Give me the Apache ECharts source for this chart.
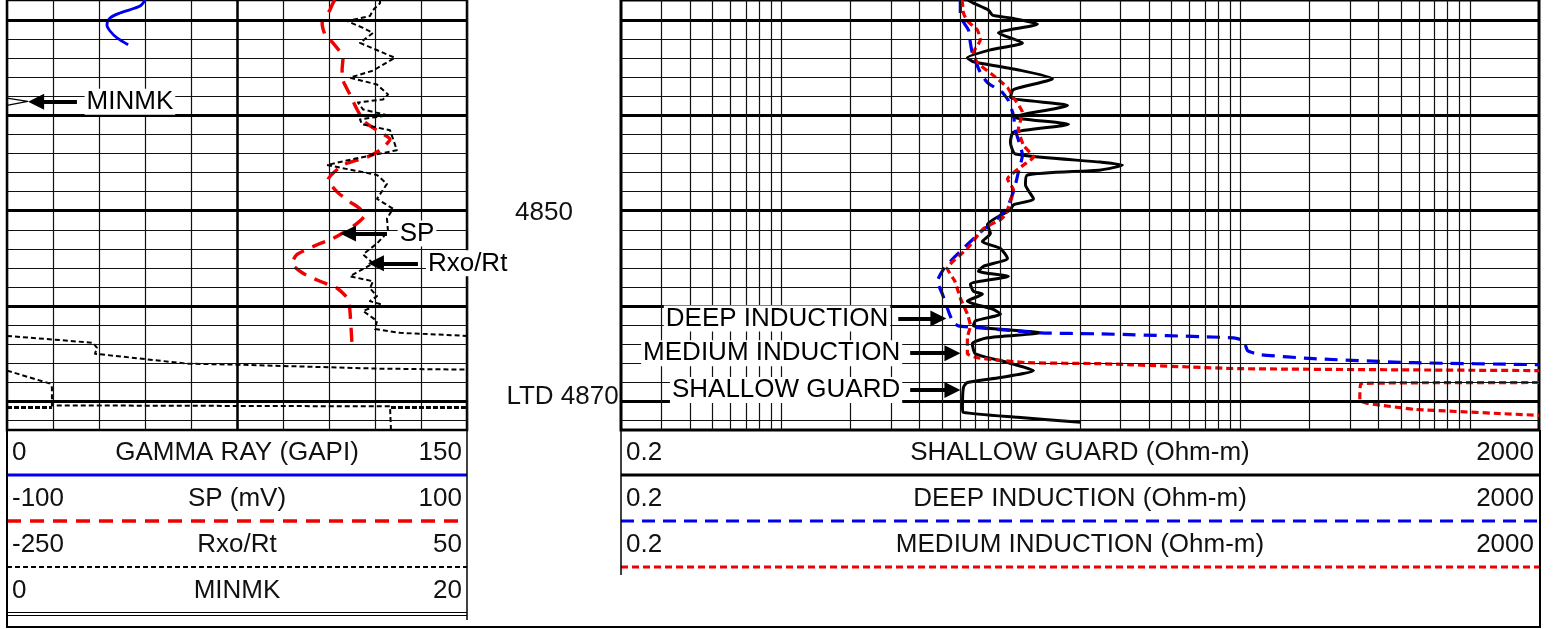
<!DOCTYPE html>
<html>
<head>
<meta charset="utf-8">
<title>Well log 4828-4873 ft</title>
<script src="https://cdn.jsdelivr.net/npm/echarts@6/dist/echarts.min.js"></script>
<style>
  html, body { margin: 0; padding: 0; background: #fff; }
  #chart { width: 1554px; height: 629px; }
</style>
</head>
<body>
<div id="chart"></div>
<script>
// ---- Curve data: [reading, depth ft] ----
const gammaRay = [[45.0,4827.9],[43.4,4828.54],[36.8,4829.27],[33.6,4829.79],[32.6,4830.52],[33.6,4831.15],[35.9,4831.88],[39.5,4832.6]];

const spLog = [[42.5,4827.9],[41.7,4828.23],[40.4,4828.96],[37.0,4830.31],[38.3,4831.56],[41.7,4832.40],[46.1,4833.96],[45.7,4835.21],[46.1,4836.35],[49.1,4837.81],[52.2,4839.38],[55.7,4840.73],[62.2,4841.77],[66.5,4842.50],[62.2,4843.65],[56.5,4844.38],[46.1,4845.21],[39.6,4846.77],[43.5,4848.02],[49.1,4849.06],[53.5,4849.79],[55.7,4850.42],[50.4,4851.67],[41.7,4852.92],[36.1,4853.44],[26.1,4854.58],[23.9,4855.52],[28.7,4856.56],[36.1,4857.40],[43.5,4858.13],[48.3,4859.27],[49.1,4860.52],[50.0,4863.96]];

const rxoRt = [[-6.7,4827.9],[-6.7,4828.23],[-11.3,4828.96],[-13.3,4829.58],[-28.3,4830.10],[-17.8,4830.83],[-11.3,4831.35],[-19.8,4832.40],[3.0,4833.96],[-11.3,4835.31],[-26.3,4836.04],[-8.7,4836.77],[-1.5,4837.81],[-4.8,4838.33],[-21.1,4838.65],[-17.8,4839.38],[-1.5,4840.00],[-19.8,4840.42],[-18.5,4840.94],[-0.2,4841.56],[4.3,4843.65],[-24.3,4844.58],[-41.3,4845.21],[-8.7,4846.25],[-2.2,4847.19],[-8.7,4848.75],[1.7,4849.79],[-2.2,4850.83],[-1.5,4852.19],[-8.7,4853.44],[-17.8,4854.58],[-11.3,4855.52],[-26.3,4856.88],[-11.3,4857.40],[-13.3,4858.13],[-8.7,4858.96],[-13.3,4859.48],[-6.7,4859.79],[-17.8,4860.52],[-8.7,4861.56],[-10.0,4862.40],[6.3,4862.81],[50,4863.13]];

// Rxo/Rt traces re-entering the track after running off scale
const rxoRtWrap1 = [[-250,4863.13],[-193.9,4863.85],[-191.3,4864.38],[-192.6,4865.0],[-132.6,4866.04],[-100.0,4866.15],[-8.7,4866.56],[50,4866.67]];
const rxoRtWrap2 = [[-250,4866.77],[-222.0,4868.13],[-220.7,4868.54],[-220.7,4870.42],[-0.2,4870.52],[0.4,4873.0]];
const rxoRtWrap3a = [[-250,4870.63],[-220.7,4870.63]];
const rxoRtWrap3b = [[0.4,4870.63],[50,4870.63]];

const minmk = [[0,4827.9],[0,4838.2],[0.9,4838.54],[0,4838.96],[0,4873.0]];

const shallowGuard = [[6.5,4827.9],[6.86,4828.23],[7.98,4828.96],[8.31,4829.48],[9.95,4829.79],[13.05,4830.42],[8.82,4831.35],[11.23,4832.40],[8.14,4833.13],[6.46,4833.96],[6.86,4834.38],[10.68,4835.21],[15.17,4836.15],[10.26,4837.29],[9.95,4838.13],[17.64,4838.96],[11.34,4839.90],[10.26,4840.21],[17.82,4840.94],[10.26,4841.77],[9.95,4842.81],[10.46,4844.06],[24.6,4844.90],[30.6,4845.21],[24.6,4845.73],[11.80,4846.25],[11.57,4847.29],[12.54,4848.75],[10.26,4849.38],[9.95,4849.90],[7.90,4851.46],[8.14,4852.40],[7.51,4853.23],[9.00,4853.96],[9.66,4855.00],[7.59,4855.83],[7.22,4856.35],[9.75,4856.88],[6.66,4857.71],[6.86,4858.44],[7.51,4858.75],[6.46,4859.48],[8.31,4860.31],[9.00,4860.83],[7.00,4861.56],[6.86,4862.08],[13.45,4862.81],[7.90,4863.33],[6.79,4863.96],[7.00,4865.00],[9.75,4865.94],[12.54,4866.77],[9.00,4867.50],[6.46,4868.02],[6.21,4868.54],[6.15,4870.63],[6.21,4871.15],[10.68,4871.67],[20.1,4872.19]];

const deepInduction = [[6.02,4827.9],[6.02,4829.58],[6.53,4831.04],[6.66,4832.40],[6.79,4833.44],[7.36,4835.52],[7.90,4836.56],[9.18,4837.60],[9.75,4838.44],[10.26,4840.00],[10.46,4841.56],[11.23,4844.17],[10.78,4845.94],[10.46,4847.29],[10.15,4848.33],[9.66,4849.58],[8.73,4850.83],[7.59,4851.98],[6.46,4853.54],[5.61,4855.00],[5.08,4856.15],[4.78,4857.40],[5.03,4858.75],[5.34,4860.52],[5.61,4861.77],[5.90,4862.08],[7.36,4862.29],[13.45,4862.81],[24.6,4862.92],[93.5,4863.33],[103.3,4863.65],[107.6,4864.69],[122.6,4865.10],[208.7,4865.52],[569.9,4865.94],[2000,4866.15]];

const mediumInduction = [[6.1,4827.9],[6.15,4828.23],[6.21,4829.27],[6.46,4830.10],[7.14,4831.04],[7.36,4832.08],[6.86,4833.44],[7.14,4834.48],[8.31,4835.73],[9.66,4837.08],[10.26,4838.13],[11.23,4839.69],[10.78,4841.46],[11.34,4843.13],[12.54,4844.38],[11.34,4845.21],[9.66,4846.67],[10.26,4847.81],[9.95,4849.06],[9.46,4850.42],[9.00,4850.94],[7.59,4851.88],[6.46,4853.96],[5.28,4856.04],[5.70,4857.40],[6.02,4859.17],[6.46,4860.83],[6.66,4862.08],[6.46,4863.33],[6.46,4865.00],[7.14,4865.42],[11.80,4865.94],[24.6,4866.04],[97.3,4866.56],[2000,4866.77]];
const mediumInductionWrap = [[2000,4868.02],[334.7,4868.13],[331.3,4869.90],[359.1,4870.21],[569.9,4870.83],[2000,4871.46]];

// ---- Grid values ----
const depthMinor = [4830,4832,4834,4836,4838,4840,4842,4844,4846,4848,4850,4852,4854,4856,4858,4860,4862,4864,4866,4868,4870,4872];
const depthMajor = [4830,4840,4850,4860,4870];
const resistivityGrid = [0.3,0.4,0.5,0.6,0.7,0.8,0.9,1,2,3,4,5,6,7,8,9,10,20,30,40,50,60,70,80,90,100,200,300,400,500,600,700,800,900,1000];

// ---- Depth track labels ----
const depthLabels = [
  { text: '4850', pos: 0.5, depth: 4850.2, align: 'center' },
  { text: 'LTD 4870', pos: 0.985, depth: 4869.5, align: 'right' }
];

// ---- Callouts: label anchor, arrow from -> to (track units) ----
const leftCallouts = [
  { text: 'MINMK',  labelAt: 25.3,  depth: 4838.56, from: 22.8,  to: 9.5 },
  { text: 'SP',     labelAt: 127.4, depth: 4852.40, from: 123.9, to: 111.2 },
  { text: 'Rxo/Rt', labelAt: 136.6, depth: 4855.52, from: 134.0, to: 120.3 }
];
const rightCallouts = [
  { text: 'DEEP INDUCTION',   labelAt: 2.98, depth: 4861.30, from: 3.23, to: 4.83 },
  { text: 'MEDIUM INDUCTION', labelAt: 3.36, depth: 4864.95, from: 3.64, to: 5.56 },
  { text: 'SHALLOW GUARD',    labelAt: 3.36, depth: 4868.80, from: 3.64, to: 5.56 }
];

// ---- Header scales ----
const leftHeader = [
  { lo: '0',    name: 'GAMMA RAY (GAPI)', hi: '150', key: 'gr' },
  { lo: '-100', name: 'SP (mV)',          hi: '100', key: 'sp' },
  { lo: '-250', name: 'Rxo/Rt',           hi: '50',  key: 'rxo' },
  { lo: '0',    name: 'MINMK',            hi: '20',  key: 'minmk' }
];
const rightHeader = [
  { lo: '0.2', name: 'SHALLOW GUARD (Ohm-m)',    hi: '2000', key: 'sg' },
  { lo: '0.2', name: 'DEEP INDUCTION (Ohm-m)',   hi: '2000', key: 'deep' },
  { lo: '0.2', name: 'MEDIUM INDUCTION (Ohm-m)', hi: '2000', key: 'med' }
];

const FONT = '"Liberation Sans", Arial, Helvetica, sans-serif';
const BLUE = '#0000f0', RED = '#f00000';
const curveStyle = {
  gr:    { color: BLUE,   width: 2.8, type: 'solid' },
  sp:    { color: RED,    width: 3.4, type: [14, 9] },
  rxo:   { color: '#000', width: 2.0, type: [5, 3] },
  minmk: { color: '#000', width: 1.2, type: 'solid' },
  sg:    { color: '#000', width: 3.0, type: 'solid' },
  deep:  { color: BLUE,   width: 3.2, type: [13, 8] },
  med:   { color: RED,    width: 3.2, type: [7, 4] }
};

const chart = echarts.init(document.getElementById('chart'), null, { renderer: 'canvas' });

const TOP = -3, HEIGHT = 433, DMIN = 4827.9, DMAX = 4873.0;
const yBase = { type: 'value', inverse: true, min: DMIN, max: DMAX, show: false };
const hidden = { show: false };
const GRID_COLOR = '#111';

function curve(name, data, xIdx, yIdx, style, smooth) {
  return {
    name, type: 'line', data, xAxisIndex: xIdx, yAxisIndex: yIdx,
    showSymbol: false, symbol: 'none', smooth: smooth || 0, clip: true, z: 4,
    lineStyle: { color: style.color, width: style.width, type: style.type, cap: 'butt', join: 'round' },
    emphasis: { disabled: true }, silent: true
  };
}

function gridLines(xIdx, yIdx, extra) {
  const data = [];
  depthMinor.forEach(d => data.push({ yAxis: d, lineStyle: { width: 1.2, color: GRID_COLOR } }));
  depthMajor.forEach(d => data.push({ yAxis: d, lineStyle: { width: 3, color: '#000' } }));
  extra.forEach(e => data.push(e));
  return {
    type: 'line', data: [], xAxisIndex: xIdx, yAxisIndex: yIdx, z: 1, silent: true,
    markLine: {
      silent: true, symbol: ['none', 'none'], animation: false,
      label: { show: false }, emphasis: { disabled: true },
      lineStyle: { type: 'solid' }, data
    }
  };
}

function callouts(list, xIdx, yIdx, side) {
  return {
    type: 'scatter', xAxisIndex: xIdx, yAxisIndex: yIdx, symbolSize: 0, z: 8, silent: true,
    itemStyle: { opacity: 1 },
    data: list.map(c => ({ value: [c.labelAt, c.depth], name: c.text })),
    label: {
      show: true, formatter: '{b}', position: side, distance: 0, opacity: 1,
      color: '#000', fontFamily: FONT, fontSize: 26, lineHeight: 26,
      backgroundColor: '#fff', padding: [0, 2, 0, 2]
    },
    markLine: {
      silent: true, animation: false, symbol: ['none', 'triangle'], symbolSize: 16,
      label: { show: false }, emphasis: { disabled: true },
      lineStyle: { color: '#000', width: 4, type: 'solid', cap: 'butt', opacity: 1 },
      itemStyle: { color: '#000', opacity: 1 },
      data: list.map(c => [{ coord: [c.from, c.depth] }, { coord: [c.to, c.depth] }])
    }
  };
}

// Header panel drawn below the tracks
const graphics = [];
function hline(x1, x2, y, style) {
  graphics.push({ type: 'line', z: 20, silent: true,
    shape: { x1, y1: y, x2, y2: y },
    style: { stroke: style.color, lineWidth: style.width, lineDash: Array.isArray(style.type) ? style.type : null } });
}
function vline(x, y1, y2, w) {
  graphics.push({ type: 'line', z: 20, silent: true, shape: { x1: x, y1, x2: x, y2 }, style: { stroke: '#000', lineWidth: w } });
}
function txt(text, x, y, align) {
  graphics.push({ type: 'text', z: 21, silent: true, x, y,
    style: { text, fill: '#111', font: '26px ' + FONT, align, verticalAlign: 'middle' } });
}
function headerBlock(rows, x1, x2) {
  rows.forEach((r, i) => {
    const yc = 453 + 46 * i;
    txt(r.lo, x1 + 5, yc, 'left');
    txt(r.name, (x1 + x2) / 2, yc, 'center');
    txt(r.hi, x2 - 5, yc, 'right');
    const ly = 475 + 46 * i;
    if (r.key === 'minmk') {
      hline(x1, x2, ly - 0.5, { color: '#000', width: 1 });
      hline(x1, x2, ly + 2.5, { color: '#000', width: 1 });
    } else {
      hline(x1, r.key === 'sp' ? x2 - 7 : x2, ly, curveStyle[r.key]);
    }
  });
}
headerBlock(leftHeader, 7, 467);
headerBlock(rightHeader, 621, 1539);
vline(467, 430, 620, 1.5);
vline(621, 430, 575, 1.5);
vline(7, 430, 628, 2);
vline(1540, 430, 628, 2);
hline(6, 1541, 627, { color: '#000', width: 2 });

const option = {
  animation: false,
  backgroundColor: '#fff',
  grid: [
    { left: 7,   top: TOP, width: 460, height: HEIGHT, show: true, borderColor: '#000', borderWidth: 2.5, backgroundColor: 'transparent' },
    { left: 467, top: TOP, width: 154, height: HEIGHT, show: false },
    { left: 621, top: TOP, width: 918, height: HEIGHT, show: true, borderColor: '#000', borderWidth: 3, backgroundColor: 'transparent' }
  ],
  xAxis: [
    { gridIndex: 0, type: 'value', min: 0, max: 150, interval: 15,
      axisLine: hidden, axisTick: hidden, axisLabel: hidden,
      splitLine: { show: true, lineStyle: { color: GRID_COLOR, width: 1.2 } } },
    { gridIndex: 0, type: 'value', min: -100, max: 100, show: false },
    { gridIndex: 0, type: 'value', min: -250, max: 50, show: false },
    { gridIndex: 0, type: 'value', min: 0, max: 20, show: false },
    { gridIndex: 1, type: 'value', min: 0, max: 1, show: false },
    { gridIndex: 2, type: 'log', logBase: 10, min: 0.2, max: 2000,
      axisLine: hidden, axisTick: hidden, axisLabel: hidden, splitLine: hidden, minorSplitLine: hidden }
  ],
  yAxis: [
    Object.assign({ gridIndex: 0 }, yBase),
    Object.assign({ gridIndex: 1 }, yBase),
    Object.assign({ gridIndex: 2 }, yBase)
  ],
  graphic: graphics,
  series: [
    gridLines(0, 0, [{ xAxis: 75, lineStyle: { width: 2.5, color: '#000' } }]),
    gridLines(5, 2, resistivityGrid.map(v => ({ xAxis: v, lineStyle: { width: 1.2, color: GRID_COLOR } }))),

    curve('GAMMA RAY', gammaRay, 0, 0, curveStyle.gr, 0.3),
    curve('SP', spLog, 1, 0, curveStyle.sp, 0.2),
    curve('Rxo/Rt', rxoRt, 2, 0, curveStyle.rxo, 0),
    curve('Rxo/Rt', rxoRtWrap1, 2, 0, curveStyle.rxo, 0),
    curve('Rxo/Rt', rxoRtWrap2, 2, 0, curveStyle.rxo, 0),
    curve('Rxo/Rt', rxoRtWrap3a, 2, 0, { color: '#000', width: 3, type: [5, 2] }, 0),
    curve('Rxo/Rt', rxoRtWrap3b, 2, 0, { color: '#000', width: 3, type: [5, 2] }, 0),
    curve('MINMK', minmk, 3, 0, curveStyle.minmk, 0),

    curve('SHALLOW GUARD', shallowGuard, 5, 2, curveStyle.sg, 0.2),
    curve('DEEP INDUCTION', deepInduction, 5, 2, curveStyle.deep, 0.15),
    curve('MEDIUM INDUCTION', mediumInduction, 5, 2, curveStyle.med, 0.15),
    curve('MEDIUM INDUCTION', mediumInductionWrap, 5, 2, curveStyle.med, 0.1),

    {
      type: 'scatter', xAxisIndex: 4, yAxisIndex: 1, symbolSize: 0, z: 8, silent: true,
      itemStyle: { opacity: 1 },
      data: depthLabels.map(d => ({ value: [d.pos, d.depth], name: d.text,
        label: { position: d.align === 'right' ? 'left' : 'inside', distance: 0 } })),
      label: { show: true, formatter: '{b}', color: '#111', opacity: 1, fontFamily: FONT, fontSize: 26 }
    },
    callouts(leftCallouts, 0, 0, 'right'),
    callouts(rightCallouts, 5, 2, 'left')
  ]
};

chart.setOption(option);
</script>
</body>
</html>
